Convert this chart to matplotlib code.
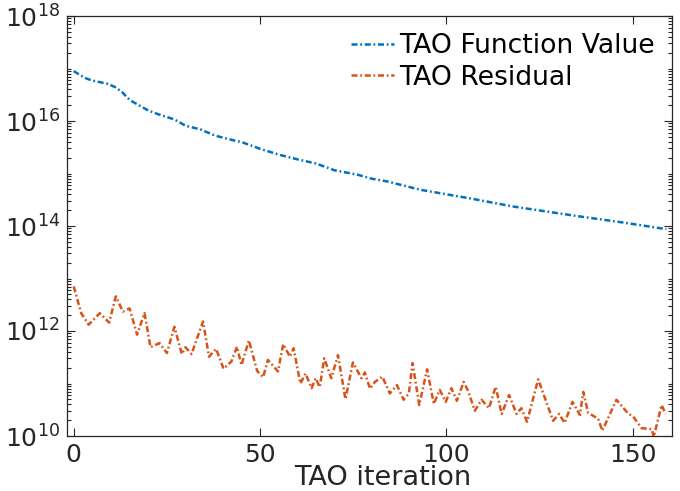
import numpy as np
import matplotlib
matplotlib.use('Agg')
import matplotlib.pyplot as plt
from matplotlib.ticker import FixedLocator, LogFormatterSciNotation, NullFormatter


# TAO Function Value (iteration, value)
fval_iter = [0, 3, 5, 9, 11, 13, 15, 18, 20, 23, 27, 30, 34, 38, 43, 45, 50,
             55, 60, 65, 70, 76, 80, 84, 93, 106, 118, 134, 147, 159]
fval_log = [16.95, 16.82, 16.77, 16.71, 16.65, 16.55, 16.40, 16.28, 16.20,
            16.12, 16.03, 15.91, 15.84, 15.72, 15.63, 15.60, 15.47, 15.36,
            15.27, 15.19, 15.06, 14.98, 14.90, 14.85, 14.69, 14.53, 14.37,
            14.20, 14.07, 13.94]

# TAO Residual (iteration, value)
res_iter = [0, 2, 4, 7, 9.5, 11.3, 13.2, 15, 17, 19, 20.6, 23, 25, 27, 29, 30,
            31.6, 34.7, 36.3, 38.2, 40.2, 42.3, 43.8, 45, 47, 49.2, 50.8, 52.1,
            54.8, 56.2, 58, 59, 60.8, 62.2, 63.8, 64.9, 66, 67.2, 69.1, 70.9,
            72.9, 74.9, 77.2, 78.1, 79.5, 80.8, 82.8, 84.8, 86.7, 88.5, 89.9,
            90.9, 92.7, 94.8, 96.6, 98.2, 99.8, 101.3, 102.8, 104.6, 105.8,
            107.6, 109.4, 111.4, 113.2, 114.8, 116.8, 118.8, 120.1, 121.6,
            124.6, 128.6, 130.2, 131.7, 133.8, 135.8, 136.7, 138, 140.7, 141.8,
            145.6, 148.7, 150.1, 152.3, 155.1, 155.6, 157.7, 158.8]
res_log = [12.85, 12.34, 12.12, 12.34, 12.16, 12.66, 12.37, 12.43, 11.93,
           12.34, 11.69, 11.77, 11.58, 12.08, 11.56, 11.69, 11.56, 12.18,
           11.51, 11.66, 11.28, 11.42, 11.70, 11.35, 11.82, 11.24, 11.12,
           11.45, 11.23, 11.75, 11.51, 11.67, 11.00, 11.19, 10.91, 11.10,
           10.93, 11.48, 11.10, 11.54, 10.70, 11.40, 11.10, 11.21, 10.90,
           11.03, 11.13, 10.81, 10.97, 10.69, 10.81, 11.39, 10.59, 11.27,
           10.61, 10.88, 10.65, 10.91, 10.67, 11.03, 10.86, 10.48, 10.69,
           10.53, 10.94, 10.42, 10.78, 10.42, 10.53, 10.27, 11.08, 10.29,
           10.42, 10.25, 10.65, 10.40, 10.84, 10.44, 10.33, 10.10, 10.69,
           10.43, 10.37, 10.15, 10.13, 9.98, 10.59, 10.42]

labels = ['TAO Function Value', 'TAO Residual']
colors = ['#0072BD', '#D95319']


def main():
    plt.rcParams['font.family'] = 'DejaVu Sans'
    plt.rcParams['font.size'] = 18

    fig = plt.figure(figsize=(6.8, 4.91), dpi=100)
    ax = fig.add_axes([67 / 680, 55 / 491, 605 / 680, 420 / 491])

    # short matlab-ish dash-dot
    ls = (0, (2.4, 1.1, 0.7, 1.1))
    ax.plot(fval_iter, 10.0 ** np.array(fval_log), ls=ls, color=colors[0],
            lw=1.8, label=labels[0])
    ax.plot(res_iter, 10.0 ** np.array(res_log), ls=ls, color=colors[1],
            lw=1.8, label=labels[1])

    ax.set_yscale('log')
    ax.set_xlim(-1.8, 160.5)
    ax.set_ylim(1e10, 1e18)
    ax.set_xticks([0, 50, 100, 150])

    ax.yaxis.set_major_locator(FixedLocator([1e10, 1e12, 1e14, 1e16, 1e18]))
    ax.yaxis.set_major_formatter(LogFormatterSciNotation())
    minors = [m * 10.0 ** k for k in range(10, 18) for m in range(2, 11)]
    ax.yaxis.set_minor_locator(FixedLocator(minors))
    ax.yaxis.set_minor_formatter(NullFormatter())

    ax.tick_params(which='both', direction='in', top=True, right=True,
                   colors='#262626', labelcolor='#262626', width=0.8)
    ax.tick_params(which='major', length=6, pad=5)
    ax.tick_params(which='minor', length=3)
    for s in ax.spines.values():
        s.set_color('#262626')
        s.set_linewidth(0.9)

    ax.set_xlabel('TAO iteration', color='#262626', fontsize=19.5)
    ax.xaxis.set_label_coords(0.522, -0.068)

    ax.legend(loc='upper right', frameon=False, handlelength=1.6,
              handletextpad=0.2, labelspacing=0.2, borderaxespad=0.25,
              fontsize=19.2)

    plt.savefig('out.png', dpi=100)


if __name__ == '__main__':
    main()
